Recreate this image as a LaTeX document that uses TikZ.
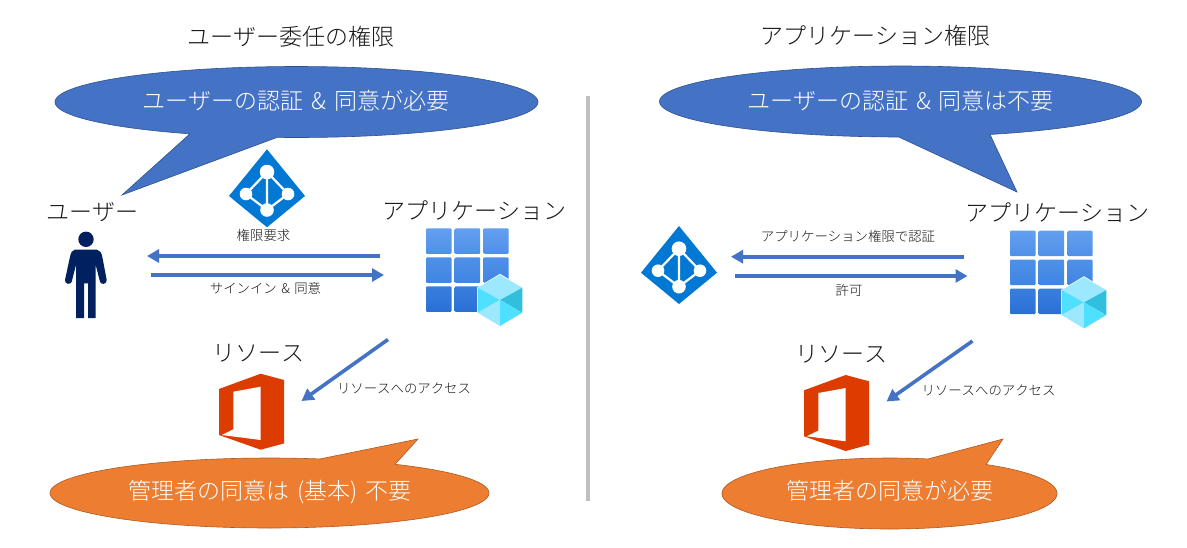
\documentclass[tikz,border=0pt]{standalone}
\usepackage{fontspec}
\setmainfont[Kerning=Off]{Noto Sans CJK JP Light}
\usetikzlibrary{arrows.meta}
\definecolor{callblue}{HTML}{4472C4}
\definecolor{callblueline}{HTML}{2F528F}
\definecolor{callorange}{HTML}{ED7D31}
\definecolor{callorangeline}{HTML}{AE5A21}
\definecolor{adblue}{HTML}{0078D4}
\definecolor{navy}{HTML}{002060}
\definecolor{officered}{HTML}{DC3C00}
\definecolor{rulegray}{HTML}{BFBFBF}
\newcommand{\ptsize}[1]{\fontsize{#1}{#1}\selectfont}
\newcommand{\wsp}{\hspace{0.33em}}
\tikzset{
  big/.style={inner sep=0pt,text=black!90,font=\ptsize{23}},
  small/.style={inner sep=0pt,text=black!90,font=\ptsize{13.4}},
  calltext/.style={inner sep=0pt,text=white,font=\ptsize{23}},
  bluecall/.style={fill=callblue,draw=callblueline,line width=0.6pt},
  orangecall/.style={fill=callorange,draw=callorangeline,line width=0.6pt},
  flow/.style={draw=callblue,line width=3.6pt,-{Triangle[length=12pt,width=13pt]}},
  adicon/.pic={
    \fill[adblue] (0,0) -- (38,46.7) -- (0,78) -- (-38,46.7) -- cycle;
    \draw[white,line width=2.2pt,line join=round] (0,22.7) -- (-21,44.7) -- (0,60.7) -- (21,44.7) -- cycle (0,22.7) -- (0,60.7);
    \fill[white] (0,22.7) circle[radius=7.3] (-21,44.7) circle[radius=6.3] (21,44.7) circle[radius=6.3] (0,60.7) circle[radius=6.8];
  },
  cell/.style={rounded corners=1pt},
  appicon/.pic={
    \shade[cell,top color=cellA,bottom color=cellB] (0,0) rectangle (25.5,25.5);
    \shade[cell,top color=cellA,bottom color=cellB] (28.7,0) rectangle (54.2,25.5);
    \shade[cell,top color=cellA,bottom color=cellB] (57.6,0) rectangle (82.6,25.5);
    \shade[cell,top color=cellB,bottom color=cellC] (0,29) rectangle (25.5,54.5);
    \shade[cell,top color=cellB,bottom color=cellC] (28.7,29) rectangle (54.2,54.5);
    \shade[cell,top color=cellB,bottom color=cellC] (57.6,29) rectangle (82.6,54.5);
    \shade[cell,top color=cellD,bottom color=cellE] (0,58) rectangle (25.5,83.5);
    \shade[cell,top color=cellD,bottom color=cellE] (28.7,58) rectangle (54.2,83.5);
    \fill[white] (74,45.5) -- (96.8,59.2) -- (96.8,84.6) -- (74,98.2) -- (51.2,84.6) -- (51.2,59.2) -- cycle;
    \fill[cubeLight] (74,46.5) -- (96.3,59.4) -- (74,71.7) -- (51.7,59.4) -- cycle;
    \fill[cubeDark] (96.3,59.4) -- (96.3,84.4) -- (74,71.7) -- cycle;
    \fill[cubeMid] (51.7,59.4) -- (74,71.7) -- (51.7,84.4) -- cycle;
    \fill[cubeLight] (51.7,84.4) -- (74,71.7) -- (74,97.7) -- cycle;
    \fill[cubeMid] (74,71.7) -- (96.3,84.4) -- (74,97.7) -- cycle;
  },
  officeicon/.pic={
    \fill[officered] (0,15.3) -- (41.7,0) -- (65,6.3) -- (65,69.7) -- (41.7,76) -- (0,61.3) -- cycle;
    \fill[white] (14.3,18) -- (41.7,13) -- (41.7,66.3) -- (2.7,61.3) -- (14.3,55.6) -- cycle;
  },
}
\definecolor{cellA}{HTML}{649FEF}
\definecolor{cellB}{HTML}{4F90E8}
\definecolor{cellC}{HTML}{3F85E2}
\definecolor{cellD}{HTML}{3A7EDC}
\definecolor{cellE}{HTML}{2A6FD6}
\definecolor{cubeLight}{HTML}{9BE8FF}
\definecolor{cubeMid}{HTML}{50E0FF}
\definecolor{cubeDark}{HTML}{32BEDD}
\begin{document}
\begin{tikzpicture}[x=1pt,y=-1pt]
\useasboundingbox (0,0) rectangle (1187,547);
\fill[white] (0,0) rectangle (1187,547);

% divider
\coordinate (ruleTop) at (588,96);
\coordinate (ruleBottom) at (588,501);
\draw[rulegray,line width=3.5pt] (ruleTop) -- (ruleBottom);

% titles
\node[big] (titleL) at (290.5,36.5) {ユーザー委任の権限};
\node[big] (titleR) at (875.5,36) {アプリケーション権限};

% callouts
\draw[bluecall] plot[domain=116.2:454.6,samples=160] ({296.5+241.5*cos(\x)},{102+35.5*sin(\x)}) -- (122,195) -- cycle;
\draw[bluecall] plot[domain=90.4:428.2,samples=160] ({900.5+241*cos(\x)},{101.5+35.5*sin(\x)}) -- (1017,192) -- cycle;
\draw[orangecall] plot[domain=-55.1:283.3,samples=160] ({269.5+219.5*cos(\x)},{493+35*sin(\x)}) -- (418,439) -- cycle;
\draw[orangecall] plot[domain=-54.8:283.3,samples=160] ({889.5+167.5*cos(\x)},{493.5+35.5*sin(\x)}) -- (1003,439) -- cycle;
\node[calltext] (cbL) at (296,101) {ユーザーの認証\wsp\&\wsp 同意が必要};
\node[calltext] (cbR) at (900.5,101) {ユーザーの認証\wsp\&\wsp 同意は不要};
\node[calltext] (coL) at (270,492) {管理者の同意は\wsp(基本)\wsp 不要};
\node[calltext] (coR) at (890,491) {管理者の同意が必要};

% icons
\pic (adL) at (267,149.3) {adicon};
\pic (adR) at (679,226) {adicon};
\pic (appL) at (426,228.3) {appicon};
\pic (appR) at (1010,230.7) {appicon};
\pic (officeL) at (219,373.7) {officeicon};
\pic (officeR) at (804,375) {officeicon};

% person
\fill[navy] (86,239.3) circle[radius=7.7];
\fill[navy,line join=round] (75,249.5) -- (96.7,249.5) .. controls (100,250) and (101.5,253) .. (102.3,256.7) -- (106.7,280) .. controls (107.2,284) and (101,285.5) .. (100,281.7) -- (95.7,265) -- (95.7,318) -- (88,318) -- (88,283.3) -- (84,283.3) -- (84,318) -- (76,318) -- (76,265) -- (71.7,281.7) .. controls (70.7,285.5) and (64.5,284) .. (65,280) -- (70,256.7) .. controls (70.8,253) and (72,250) .. (75,249.5) -- cycle;

% labels
\node[big] (lblUser) at (92.5,212.5) {ユーザー};
\node[big] (lblAppL) at (474,210.5) {アプリケーション};
\node[big] (lblAppR) at (1057.5,212.5) {アプリケーション};
\node[big] (lblResL) at (258,353.5) {リソース};
\node[big] (lblResR) at (841,354.5) {リソース};
\node[small] (s1) at (263.5,235) {権限要求};
\node[small] (s2) at (265.5,288) {サインイン\wsp\&\wsp 同意};
\node[small] (s3) at (404,388) {リソースへのアクセス};
\node[small] (s4) at (848,236) {アプリケーション権限で認証};
\node[small] (s5) at (849,290) {許可};
\node[small] (s6) at (988.5,390) {リソースへのアクセス};

% connector ends
\coordinate (a1s) at (380,256);   \coordinate (a1e) at (147,256);
\coordinate (a2s) at (151,275);   \coordinate (a2e) at (384,275);
\coordinate (a3s) at (388,339.5); \coordinate (a3e) at (301.5,401);
\coordinate (b1s) at (963.5,256.7); \coordinate (b1e) at (731,256.7);
\coordinate (b2s) at (735,276);   \coordinate (b2e) at (967.5,276);
\coordinate (b3s) at (972.5,341); \coordinate (b3e) at (886.5,401.5);
\draw[flow] (a1s) -- (a1e);
\draw[flow] (a2s) -- (a2e);
\draw[flow] (a3s) -- (a3e);
\draw[flow] (b1s) -- (b1e);
\draw[flow] (b2s) -- (b2e);
\draw[flow] (b3s) -- (b3e);
\end{tikzpicture}
\end{document}
